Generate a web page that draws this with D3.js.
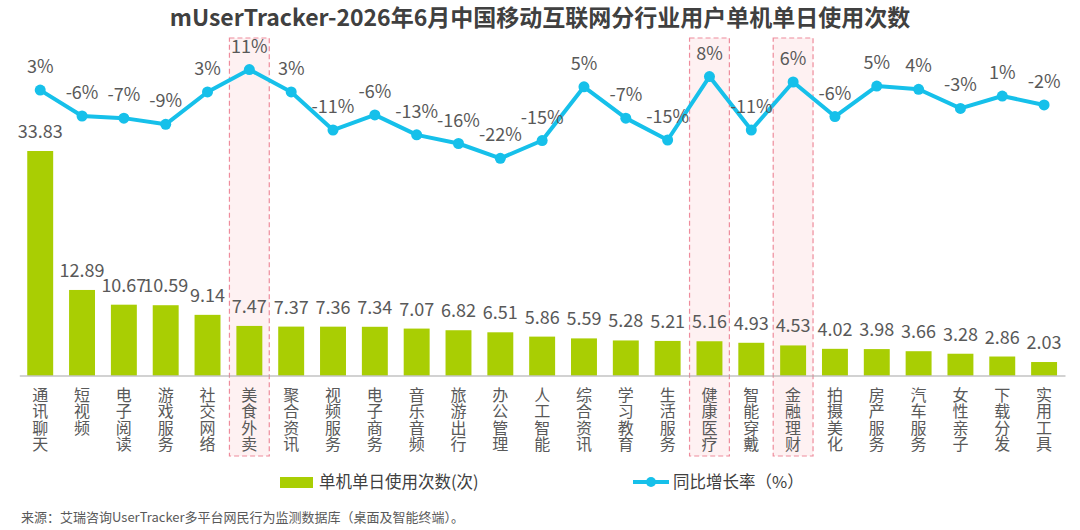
<!DOCTYPE html>
<html><head><meta charset="utf-8">
<script src="https://cdn.jsdelivr.net/npm/d3@7/dist/d3.min.js"></script>
<style>
body{margin:0;background:#fff}
text{font-family:"Noto Sans CJK SC","Noto Sans",sans-serif}
.cat{writing-mode:vertical-rl;text-orientation:upright}
</style>
</head><body>
<svg id="chart" width="1080" height="530"></svg>
<script>
const titleText = "mUserTracker-2026年6月中国移动互联网分行业用户单机单日使用次数";
const sourceText = "来源：艾瑞咨询UserTracker多平台网民行为监测数据库（桌面及智能终端）。";
const categories = ["通讯聊天","短视频","电子阅读","游戏服务","社交网络","美食外卖","聚合资讯","视频服务","电子商务","音乐音频","旅游出行","办公管理","人工智能","综合资讯","学习教育","生活服务","健康医疗","智能穿戴","金融理财","拍摄美化","房产服务","汽车服务","女性亲子","下载分发","实用工具"];
const usage = [33.83,12.89,10.67,10.59,9.14,7.47,7.37,7.36,7.34,7.07,6.82,6.51,5.86,5.59,5.28,5.21,5.16,4.93,4.53,4.02,3.98,3.66,3.28,2.86,2.03];
const growth = [3.4,-6.2,-7.0,-9.3,2.7,11.0,2.7,-11.4,-5.8,-13.2,-16.4,-21.9,-15.3,4.6,-7.0,-15.1,8.4,-11.4,6.4,-6.4,4.9,3.7,-3.4,1.2,-2.1];
const highlighted = ["美食外卖","健康医疗","金融理财"];
const legendBar = "单机单日使用次数(次)";
const legendLine = "同比增长率（%）";

const barColor = "#A9CE03";
const lineColor = "#16C0EA";
const svg = d3.select("#chart");

const x = d3.scaleBand().domain(categories).range([19.3, 1065]).paddingInner(0.38).paddingOuter(0.19);
const yBar = d3.scaleLinear().domain([0, d3.max(usage)]).range([375.5, 151]);
const yLine = d3.scaleLinear().domain([-25, 15]).range([166.7, 58.8]);
const cx = c => x(c) + x.bandwidth() / 2;

// title
svg.append("text").attr("x", 540).attr("y", 26).attr("text-anchor", "middle")
  .attr("font-size", 23).attr("font-weight", 700).attr("fill", "#404040").text(titleText);

// highlight boxes
const step = x.step();
svg.selectAll("rect.hl").data(highlighted).join("rect").attr("class", "hl")
  .attr("x", d => cx(d) - step / 2 + 1).attr("width", step - 2)
  .attr("y", 38).attr("height", 418)
  .attr("fill", "#FEF1F2").attr("stroke", "#EE8C9C").attr("stroke-width", 1.2)
  .attr("stroke-dasharray", "5,3");

// bars
svg.selectAll("rect.bar").data(usage).join("rect").attr("class", "bar")
  .attr("x", (d, i) => x(categories[i])).attr("width", x.bandwidth())
  .attr("y", d => yBar(d)).attr("height", d => yBar(0) - yBar(d))
  .attr("fill", barColor);

// bar value labels
svg.selectAll("text.val").data(usage).join("text").attr("class", "val")
  .attr("x", (d, i) => cx(categories[i])).attr("y", d => yBar(d) - 13)
  .attr("text-anchor", "middle").attr("font-size", 18).attr("fill", "#595959")
  .text(d => d.toFixed(2));

// axis
const axis = svg.append("g").attr("transform", `translate(0,${yBar(0)})`)
  .call(d3.axisBottom(x).tickSize(0).tickFormat(""));
axis.select(".domain").attr("stroke", "#A6A6A6").attr("stroke-width", 1.2);

// vertical category labels
svg.selectAll("text.cat").data(categories).join("text").attr("class", "cat")
  .attr("x", d => cx(d)).attr("y", 387)
  .attr("font-size", 16).attr("letter-spacing", 0.3).attr("fill", "#595959")
  .text(d => d);

// line
const line = d3.line().x((d, i) => cx(categories[i])).y(d => yLine(d));
svg.append("path").datum(growth).attr("d", line).attr("fill", "none")
  .attr("stroke", lineColor).attr("stroke-width", 4).attr("stroke-linejoin", "round");
svg.selectAll("circle.pt").data(growth).join("circle").attr("class", "pt")
  .attr("cx", (d, i) => cx(categories[i])).attr("cy", d => yLine(d)).attr("r", 5.5)
  .attr("fill", lineColor);
svg.selectAll("text.pct").data(growth).join("text").attr("class", "pct")
  .attr("x", (d, i) => cx(categories[i])).attr("y", d => yLine(d) - 17)
  .attr("text-anchor", "middle").attr("font-size", 18).attr("fill", "#595959")
  .text(d => Math.round(d) + "%");

// legend
svg.append("rect").attr("x", 280).attr("y", 477).attr("width", 33).attr("height", 11).attr("fill", barColor);
svg.append("text").attr("x", 319).attr("y", 488).attr("font-size", 16.5).attr("fill", "#404040").text(legendBar);
svg.append("line").attr("x1", 633).attr("x2", 669).attr("y1", 482).attr("y2", 482)
  .attr("stroke", lineColor).attr("stroke-width", 4);
svg.append("circle").attr("cx", 651).attr("cy", 482).attr("r", 5).attr("fill", lineColor);
svg.append("text").attr("x", 673).attr("y", 488).attr("font-size", 16.5).attr("fill", "#404040").text(legendLine);

// source
svg.append("text").attr("x", 21).attr("y", 522).attr("font-size", 13).attr("fill", "#595959").text(sourceText);
</script>
</body></html>
